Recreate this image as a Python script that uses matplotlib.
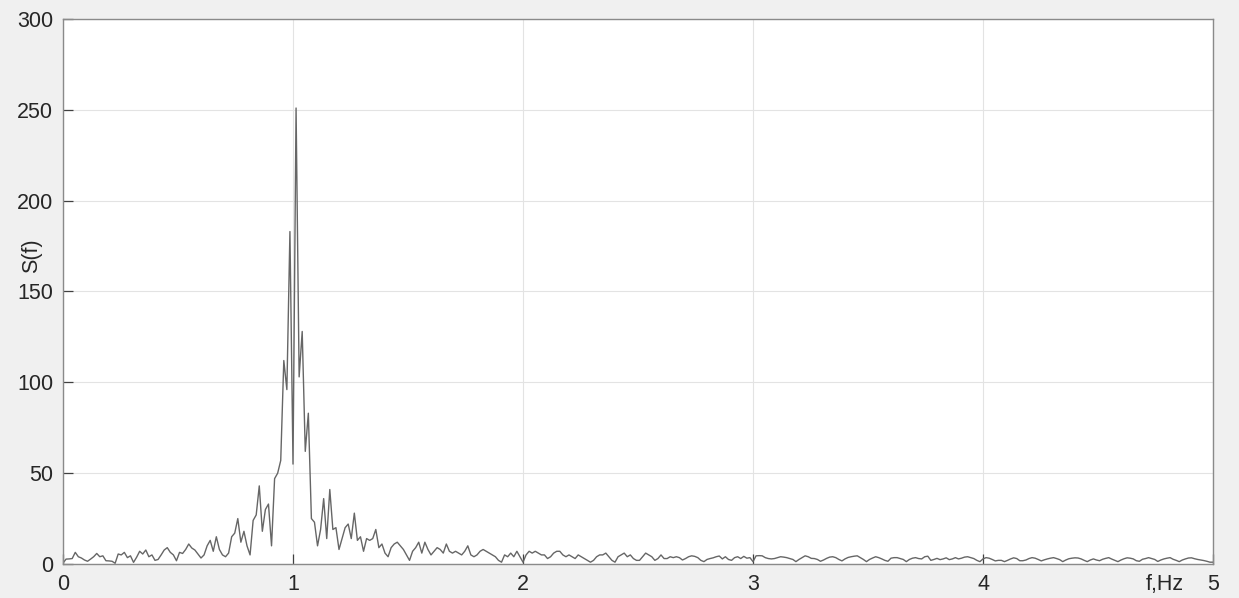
import matplotlib
matplotlib.use("Agg")
import matplotlib.pyplot as plt
import numpy as np

plt.rcParams['font.family'] = ['Liberation Sans', 'DejaVu Sans']

# spectrum values, one per frequency bin (df = 1/75 Hz, 0..5 Hz)
s_low = [0.5, 2.7, 2.8, 3, 6.4, 4, 3.3, 2.2, 1.5, 2.7,
         4, 5.8, 4, 4.5, 1.8, 1.7, 1.5, 0.4, 5.5, 5,
         6.4, 3.5, 4.5, 0.9, 3.7, 7, 5.5, 7.7, 4, 5,
         2, 2.5, 5, 7.7, 9, 6.4, 5, 1.8, 6.4, 5.8,
         8, 11, 8.8, 7.7, 5.5, 3.3, 5, 10, 13, 7,
         15, 8, 5, 4, 6, 15, 17, 25, 12, 18,
         10, 5, 24, 27, 43, 18, 30, 33, 10, 47,
         50, 57]
s_peak = [112, 96, 183, 55, 251, 103, 128, 62, 83]
s_tail = [25, 23, 10, 19, 36, 14, 41, 19, 20, 8,
          14, 20, 22, 14, 28, 13, 15, 7, 14, 13,
          14, 19, 9, 11, 6, 4, 9, 11, 12, 10,
          8, 5, 2, 7, 9, 12, 6, 12, 8, 5,
          7, 9, 8, 6, 11, 7, 6, 7, 6, 5,
          7, 10, 5, 4, 5, 7, 8, 7, 6, 5,
          4, 2, 1, 5, 4, 6, 4, 7, 4, 1,
          5, 7, 6, 7, 6, 5, 5, 3, 4, 6,
          7, 7, 5, 4, 5, 4, 3, 5, 4, 3,
          2, 1, 2, 4, 5, 5, 6, 4, 2, 1,
          4, 5, 6, 4, 5, 3, 2, 2, 4, 6,
          5, 4, 2, 3, 5, 3, 3, 4]
s_noise = [3.5, 4, 3.5, 2.2, 3, 4, 4.5, 4.2, 3.5, 2,
           1.3, 2.5, 3, 3.4, 4, 4.4, 2.8, 4, 2.5, 2,
           3.5, 4, 3, 4.2, 3.2, 3.5, 1.3, 4.5, 4.6, 4.5,
           3.5, 3, 2.8, 3, 3.5, 4, 3.8, 3.5, 3, 2.5,
           1.3, 2.5, 3.5, 4.5, 4, 3.1, 3, 2.5, 1.5, 2.2,
           3.1, 3.8, 4, 3.5, 2.5, 1.7, 2.8, 3.6, 4, 4.3,
           4.5, 3.5, 2.5, 1.3, 2.5, 3.3, 4, 3.5, 2.8, 2,
           1.5, 3.2, 3.5, 3.5, 3, 2.5, 1.3, 2.5, 3.2, 3.5,
           3, 2.8, 4, 4.3, 2, 2.5, 3.1, 2.4,
           2.8, 3.4, 2.4, 2.8, 3.5, 2.8, 3.2, 3.8, 4, 3.5,
           3, 2, 1.3, 2.8, 3.5, 3.2, 2.5, 1.7, 2, 2,
           1.3, 2, 2.8, 3.4, 3, 1.8, 1.8, 2.2, 3, 3.5,
           3.2, 2.5, 1.7, 2.3, 2.8, 3.2, 3.5, 3, 2.4, 1.3,
           2.2, 2.9, 3.2, 3.4, 3.3, 2.8, 2, 1.3, 2.2, 2.8,
           2.2, 1.8, 2.6, 3.1, 3.5, 2.7, 2, 1.3, 2.2, 2.9,
           3.4, 3.2, 2.8, 1.8, 1.5, 2.6, 3, 3.5, 3, 2.5,
           1.4, 2.2, 2.8, 3.2, 3.5, 2.6, 2, 1.3, 2.2, 2.8,
           3.3, 3.4, 2.9, 2.5, 2.2, 1.9, 1.5, 1, 1]

S = s_low + s_peak + s_tail + s_noise
freq = np.linspace(0, 5, len(S))

fig = plt.figure(figsize=(12.39, 5.98), dpi=100, facecolor='#f0f0f0')
ax = fig.add_axes([63/1239, 34/598, 1150/1239, 545/598])
ax.set_facecolor('white')

ax.plot(freq, S, color='#666666', linewidth=1.0)

ax.set_xlim(0, 5)
ax.set_ylim(0, 300)
ax.set_xticks([0, 1, 2, 3, 4, 5])
ax.set_yticks([0, 50, 100, 150, 200, 250, 300])
ax.grid(True, color='#e3e3e3', linewidth=0.8)
ax.set_axisbelow(True)

for sp in ax.spines.values():
    sp.set_color('#8a8a8a')
    sp.set_linewidth(1.0)

ax.tick_params(direction='in', length=7, width=0.9, color='#404040',
               labelsize=15.5, labelcolor='#262626', pad=7)
ax.tick_params(axis='y', pad=7)

ax.set_ylabel('S(f)', fontsize=15.5, color='#262626')
ax.yaxis.set_label_coords(-0.018, 0.565)
ax.annotate('f,Hz', xy=(4.79, 0), xycoords=('data', 'axes fraction'),
            xytext=(0, -7), textcoords='offset points',
            ha='center', va='top', fontsize=15.5, color='#262626')

fig.savefig('out.png', dpi=100, facecolor=fig.get_facecolor())
